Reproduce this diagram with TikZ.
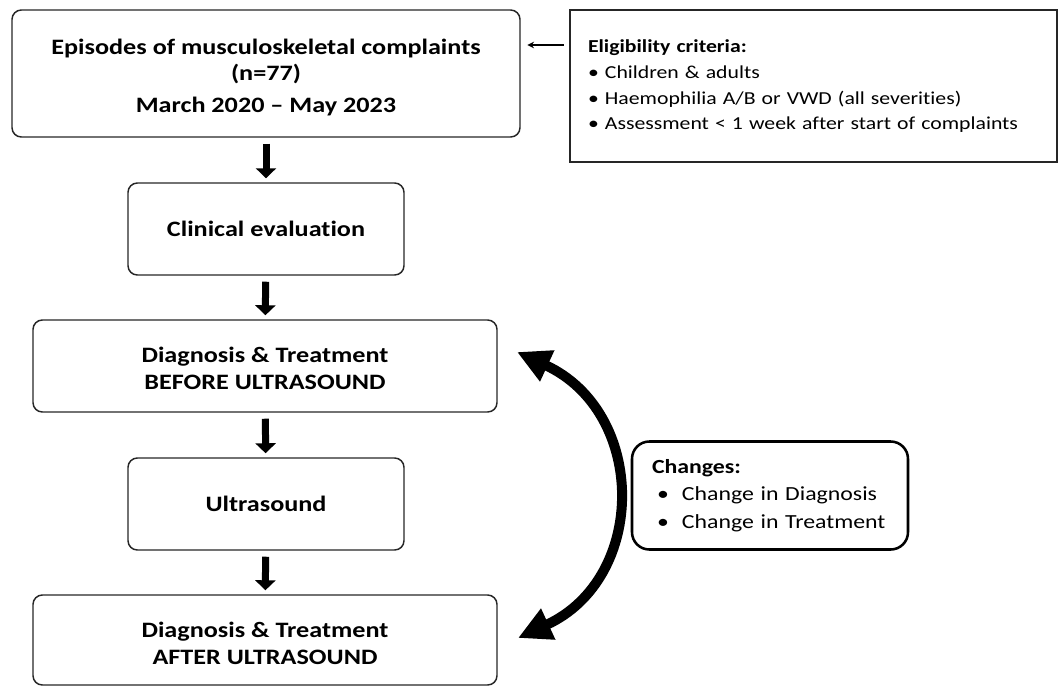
\documentclass[tikz,border=0pt]{standalone}
\usepackage{fontspec}
\setmainfont[FakeStretch=1.19, Ligatures=NoCommon]{Carlito}
\usetikzlibrary{arrows.meta}
\begin{document}
\begin{tikzpicture}[x=0.75pt,y=-0.75pt,
  flowbox/.style={draw=black!85, line width=1.1pt, rounded corners=7pt, align=center,
    font=\fontsize{16.5}{20}\selectfont\bfseries, inner sep=0pt},
  boxtext/.style={align=center, font=\fontsize{16.5}{20}\selectfont\bfseries, inner sep=0pt},
  downarrow/.style={-{Triangle[width=15pt,length=7.5pt]}, line width=5.25pt, shorten <=4.5pt, shorten >=3pt},
  thinarrow/.style={-{Stealth[width=5pt,length=5pt]}, line width=1.1pt, shorten <=4pt, shorten >=5pt},
  bigcurve/.style={{Triangle[width=24pt,length=25pt]}-{Triangle[width=24pt,length=25pt]}, line width=7.5pt}]
\useasboundingbox (0,0) rectangle (1061,687);
\node[flowbox, minimum width=381pt, minimum height=95.25pt] (b1) at (266,73.5) {};
\node[boxtext] (b1t) at (266,77.5)
  {Episodes of musculoskeletal complaints\\(n=77)\\[4pt]March 2020 -- May 2023};
\node[flowbox, minimum width=207pt, minimum height=69pt] (b2) at (266,229) {Clinical evaluation};
\node[flowbox, minimum width=348pt, minimum height=69pt] (b3) at (265,366) {};
\node[boxtext] (b3t) at (265,368.5) {Diagnosis \& Treatment\\BEFORE ULTRASOUND};
\node[flowbox, minimum width=207pt, minimum height=69pt] (b4) at (266,504) {Ultrasound};
\node[flowbox, minimum width=348pt, minimum height=67.5pt] (b5) at (265,640) {};
\node[boxtext] (b5t) at (265,643.5) {Diagnosis \& Treatment\\AFTER ULTRASOUND};
\node[draw=black!85, line width=1.1pt, inner xsep=13.5pt, inner ysep=0pt, text width=338.25pt, minimum height=114pt,
  align=left, font=\fontsize{13.7}{19}\selectfont] (elig) at (813.5,86)
  {\textbf{Eligibility criteria:}\\[1pt]
   • Children \& adults\\
   • Haemophilia A/B or VWD (all severities)\\
   • Assessment < 1 week after start of complaints};
\node[draw=black, line width=1.9pt, rounded corners=13pt, inner xsep=15pt, inner ysep=0pt, text width=177pt, minimum height=81pt,
  align=left, font=\fontsize{15}{20.5}\selectfont] (chg) at (770,495.5)
  {\textbf{Changes:}\\
   \hspace*{3.75pt}\makebox[18.75pt][l]{•}Change in Diagnosis\\
   \hspace*{3.75pt}\makebox[18.75pt][l]{•}Change in Treatment};
\draw[downarrow] (b1) -- (b2);
\draw[downarrow] (b2) -- (b3);
\draw[downarrow] (b3) -- (b4);
\draw[downarrow] (b4) -- (b5);
\draw[thinarrow] (elig.west |- 0,45) -- (b1.east |- 0,45);
\coordinate (ca) at (517,352);
\coordinate (cb) at (518,638);
\draw[bigcurve] (ca) .. controls (647,412) and (648,578) .. (cb);
\end{tikzpicture}
\end{document}
